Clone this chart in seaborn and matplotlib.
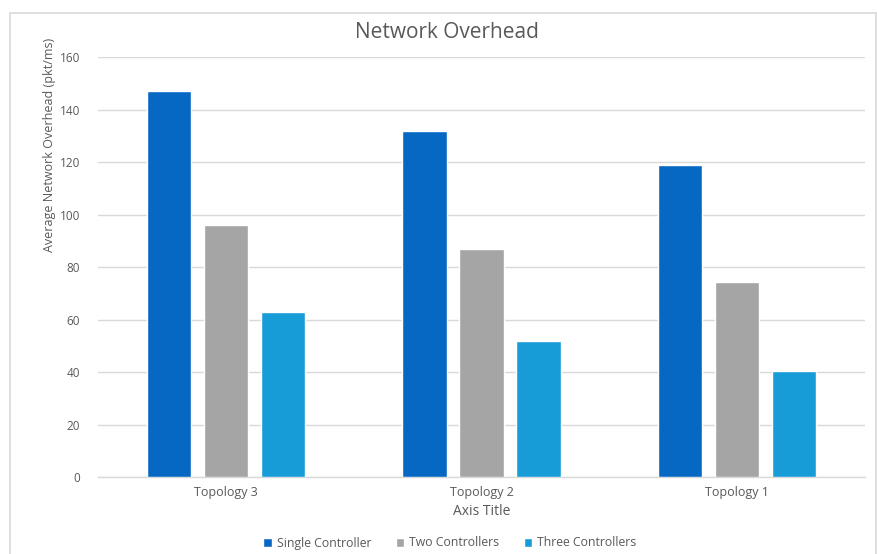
import matplotlib
matplotlib.use("Agg")
import matplotlib.pyplot as plt
from matplotlib.patches import Rectangle
import pandas as pd
import seaborn as sns

# Chart data
topologies = ["Topology 3", "Topology 2", "Topology 1"]
controllers = ["Single Controller", "Two Controllers", "Three Controllers"]
single_controller = [147, 132, 119]
two_controllers = [96, 87, 74.5]
three_controllers = [63, 52, 40.5]
y_ticks = [0, 20, 40, 60, 80, 100, 120, 140, 160]

colors = ["#0768C4", "#A5A5A5", "#189CD8"]

rows = []
for series, vals in zip(controllers, [single_controller, two_controllers, three_controllers]):
    for topo, v in zip(topologies, vals):
        rows.append({"Topology": topo, "Controllers": series, "Overhead": v})
df = pd.DataFrame(rows)

sns.set_theme(style="white")
plt.rcParams["font.family"] = ["Open Sans", "DejaVu Sans"]

W, H = 878, 554
fig = plt.figure(figsize=(W / 100, H / 100), dpi=100)
fig.patch.set_facecolor("white")

# chart frame
fig.patches.append(Rectangle((10.5 / W, -0.02), (876.5 - 10.5) / W, (H - 13) / H + 0.02,
                             transform=fig.transFigure, fill=False,
                             edgecolor="#D9D9D9", lw=1.2, zorder=0))

left, right, top, bottom = 98, 865, 57.3, 477.3
ax = fig.add_axes([left / W, (H - bottom) / H, (right - left) / W, (bottom - top) / H])

sns.barplot(data=df, x="Topology", y="Overhead", hue="Controllers",
            order=topologies, hue_order=controllers, palette=colors,
            width=0.668, gap=0.22, saturation=1, ax=ax, zorder=3)

ax.set_ylim(0, 160)
ax.set_yticks(y_ticks)
ax.set_xlim(-0.5, len(topologies) - 0.5)
ax.yaxis.grid(True, color="#D9D9D9", lw=1.0, zorder=0)
ax.set_axisbelow(True)
for side in ["top", "right", "left"]:
    ax.spines[side].set_visible(False)
ax.spines["bottom"].set_color("#D9D9D9")
ax.spines["bottom"].set_linewidth(1.0)
ax.tick_params(axis="y", length=0, pad=13, labelsize=8.5, labelcolor="#595959")
ax.tick_params(axis="x", length=0, pad=6, labelsize=9, labelcolor="#595959")

ax.set_ylabel("")
ax.set_xlabel("Axis Title", fontsize=10, color="#595959", labelpad=4)

fig.text(50 / W, 1 - 145 / H, "Average Network Overhead (pkt/ms)", rotation=90,
         ha="center", va="center", fontsize=9, color="#595959")
fig.text(447 / W, 1 - 33 / H, "Network Overhead", ha="center", va="center",
         fontsize=15, color="#595959")

handles, labels = ax.get_legend_handles_labels()
ax.legend_.remove()
fig.legend(handles, labels, loc="center", bbox_to_anchor=(450 / W, 1 - 543 / H),
           ncol=3, frameon=False, fontsize=8.8, labelcolor="#595959",
           handlelength=0.7, handleheight=0.7, handletextpad=0.4, columnspacing=2.0)

fig.savefig("out.png", dpi=100, facecolor="white")
